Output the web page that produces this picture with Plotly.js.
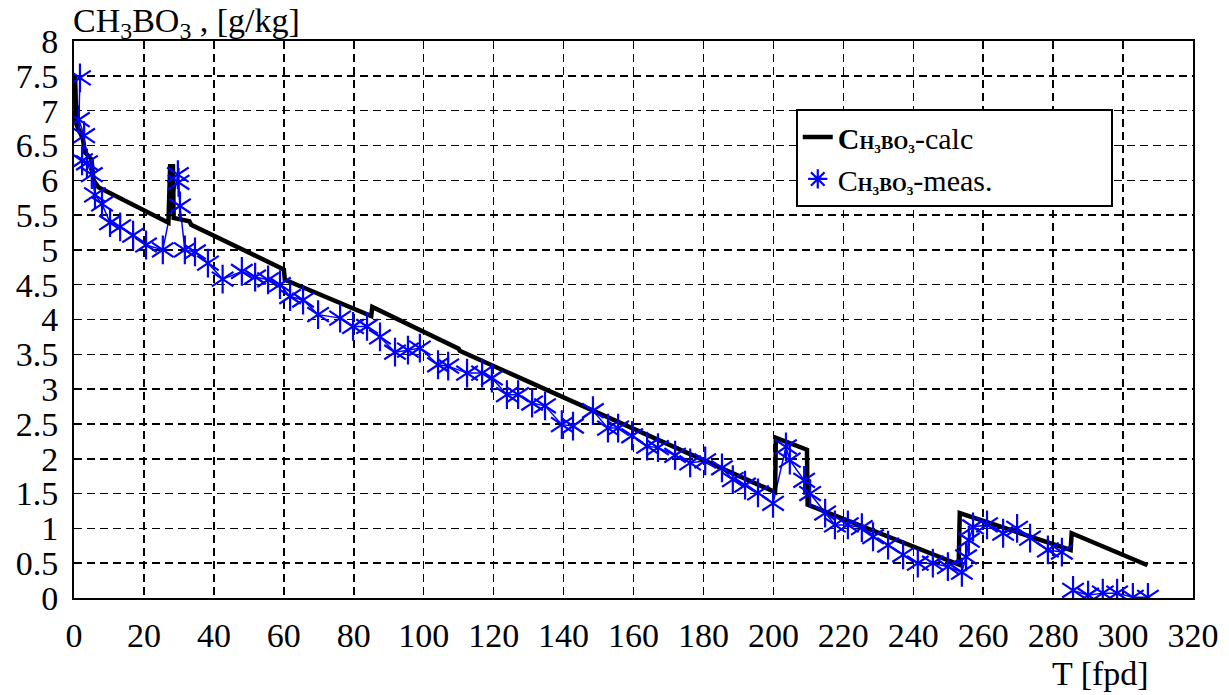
<!DOCTYPE html>
<html>
<head>
<meta charset="utf-8">
<script src="https://cdn.plot.ly/plotly-3.0.1.min.js"></script>
<style>
html,body{margin:0;padding:0;background:#fff;}
#chart{width:1229px;height:695px;}
#chart svg text{font-family:"Liberation Serif","Times New Roman",Times,serif !important;}
</style>
</head>
<body>
<div id="chart"></div>
<script>
// Calculated boric acid concentration (step line)
const calcT = [0.3, 0.7, 2.5, 3.2, 5, 5.6, 7, 27, 27.5, 28.3, 28.5, 33, 33.5, 60, 60.3, 85, 85.3, 108, 110, 110.3, 200.5, 200.7, 209.6, 209.8, 253, 253.3, 285, 285.3, 307];
const calcC = [7.5, 6.8, 6.6, 6.4, 6.3, 6.0, 5.9, 5.39, 6.2, 6.2, 5.46, 5.41, 5.36, 4.72, 4.57, 4.05, 4.18, 3.64, 3.58, 3.55, 1.52, 2.30, 2.13, 1.34, 0.48, 1.22, 0.69, 0.93, 0.47];

// Measured boric acid concentration (null = break in the line)
const measT = [1.7, 1.4, 2.9, 2.3, 3.7, 5.1, 6.0, 8.0, 10.3, 13.2, 16.9, 20.6, 25.4, 29.7, 29.9, 30.3, 31.7, 34.6, 38.3, 42.5,
  48.0, 51.8, 55.5, 58.9, 61.8, 65.5, 69.8, 76.1, 79.8, 83.8, 87.5, 91.8, 95.5, 98.9, 104.1, 107.0,
  112.4, 116.7, 119.5, 123.8, 127.0, 131.0, 134.7, 139.5, 142.7, 148.4, 152.7, 155.6, 159.6, 163.9, 167.0,
  171.9, 176.2, 180.5, 185.3, 188.4, 191.9, 195.6, 199.9, 203.6, 204.7, 208.8, 210.5, 214.8, 217.6, 221.3,
  225.3, 228.5, 232.8, 237.1, 241.3, 245.6, 249.9, 253.9, 255.1, 255.9, 257.1, 261.1, 265.7, 269.7, 273.4,
  278.5, 282.5, null, 285.7, 290.0, 294.2, 298.3, 302.8, 307.1];
const measC = [7.47, 6.87, 6.64, 6.28, 6.25, 6.08, 5.79, 5.66, 5.39, 5.33, 5.21, 5.07, 5.0, 6.08, 5.97, 5.63, 5.0, 4.97, 4.81, 4.58,
  4.69, 4.61, 4.57, 4.50, 4.33, 4.28, 4.07, 4.02, 3.90, 3.90, 3.75, 3.53, 3.56, 3.59, 3.35, 3.33,
  3.23, 3.23, 3.16, 2.92, 2.92, 2.80, 2.76, 2.49, 2.47, 2.69, 2.44, 2.44, 2.33, 2.18, 2.16,
  2.05, 1.94, 1.97, 1.87, 1.70, 1.62, 1.51, 1.36, 2.17, 1.98, 1.69, 1.50, 1.22, 1.05, 1.05,
  1.01, 0.88, 0.76, 0.62, 0.50, 0.50, 0.45, 0.37, 0.59, 0.83, 1.02, 1.05, 0.93, 1.00, 0.86,
  0.69, 0.66, null, 0.11, 0.04, 0.07, 0.07, 0.01, 0.01];

const xTicks = [0, 20, 40, 60, 80, 100, 120, 140, 160, 180, 200, 220, 240, 260, 280, 300, 320];
const xTickText = ['0', '20', '40', '60', '80', '100', '120', '140', '160', '180', '200', '220', '240', '260', '280', '300', '320'];
const yTicks = [0, 0.5, 1, 1.5, 2, 2.5, 3, 3.5, 4, 4.5, 5, 5.5, 6, 6.5, 7, 7.5, 8];
const yTickText = ['0', '0.5', '1', '1.5', '2', '2.5', '3', '3.5', '4', '4.5', '5', '5.5', '6', '6.5', '7', '7.5', '8'];

const FONT = '"Liberation Serif", "Times New Roman", Times, serif';
const BLUE = '#0000ff';
const small = (s) => '<span style="font-size:19px"><b>' + s + '</b></span>';
const pad = '&nbsp;'.repeat(15);

const traces = [
  {x: measT, y: measC, mode: 'lines', line: {color: BLUE, width: 1.5}, connectgaps: false, showlegend: false, hoverinfo: 'skip'},
  {x: calcT, y: calcC, mode: 'lines', line: {color: '#000', width: 4.5}, name: '<b>C</b>' + small('H<sub>3</sub>BO<sub>3</sub>') + '-calc'},
  {x: measT, y: measC, mode: 'markers', marker: {symbol: 'y-up-open', size: 18, color: BLUE, line: {color: BLUE, width: 2.2}}, showlegend: false},
  {x: measT, y: measC, mode: 'markers', marker: {symbol: 'y-down-open', size: 18, color: BLUE, line: {color: BLUE, width: 2.2}}, showlegend: false},
  {x: [null], y: [null], mode: 'markers', marker: {symbol: 'asterisk-open', size: 18, color: BLUE, line: {color: BLUE, width: 2.2}}, name: 'C' + small('H<sub>3</sub>BO<sub>3</sub>') + '-meas.' + pad}
];

function axis(extra) {
  return Object.assign({
    showline: true, linecolor: '#000', linewidth: 2, mirror: true,
    showgrid: true, gridcolor: '#000', gridwidth: 1.5, griddash: '8px,5px',
    zeroline: false, ticks: '',
    tickfont: {family: FONT, size: 34, color: '#000'}
  }, extra);
}

const layout = {
  width: 1229, height: 695,
  margin: {l: 74, r: 36, t: 41, b: 97},
  paper_bgcolor: '#fff', plot_bgcolor: '#fff',
  font: {family: FONT, size: 32, color: '#000'},
  xaxis: axis({range: [0, 320], tickmode: 'array', tickvals: xTicks, ticktext: xTickText, ticklabelstandoff: 6}),
  yaxis: axis({range: [0, 8], tickmode: 'array', tickvals: yTicks, ticktext: yTickText, ticklabelstandoff: 7}),
  legend: {
    x: 0.645, y: 0.878, xanchor: 'left', yanchor: 'top',
    bgcolor: '#fff', bordercolor: '#000', borderwidth: 2,
    font: {family: FONT, size: 30, color: '#000'}, tracegroupgap: 0, itemwidth: 30
  },
  annotations: [
    {xref: 'paper', yref: 'paper', x: -0.003, y: 1.0, xanchor: 'left', yanchor: 'bottom', yshift: -5, showarrow: false,
     text: 'CH<sub>3</sub>BO<sub>3</sub> , [g/kg]', font: {family: FONT, size: 34, color: '#000'}},
    {xref: 'paper', yref: 'paper', x: 0.917, y: 0, xanchor: 'center', yanchor: 'top', yshift: -55, showarrow: false,
     text: 'T [fpd]', font: {family: FONT, size: 34, color: '#000'}}
  ]
};

Plotly.newPlot('chart', traces, layout, {displayModeBar: false, staticPlot: true});
</script>
</body>
</html>
